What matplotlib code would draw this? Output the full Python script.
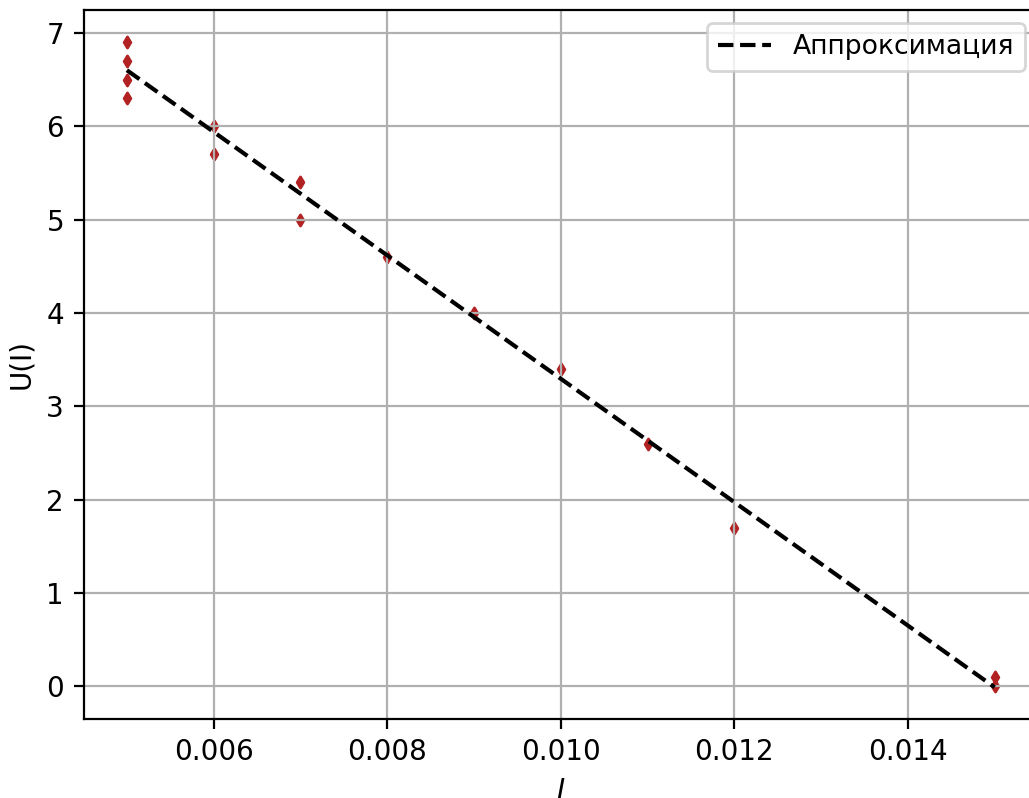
import numpy as np
import matplotlib
matplotlib.use("Agg")
import matplotlib.pyplot as plt

# Measured data: current I (A) and voltage U (V)
current = [0.005, 0.005, 0.005, 0.005, 0.006, 0.006, 0.007, 0.007,
           0.008, 0.009, 0.010, 0.011, 0.012, 0.015, 0.015]
voltage = [6.9, 6.7, 6.5, 6.3, 6.0, 5.7, 5.4, 5.0,
           4.6, 4.0, 3.4, 2.6, 1.7, 0.1, 0.0]

# Approximation line endpoints
fit_current = [0.005, 0.015]
fit_voltage = [6.60, -0.01]

legend_label = "Аппроксимация"
x_label = "$I$"
y_label = "U(I)"

W, H, DPI = 1029, 798, 200
fig = plt.figure(figsize=(W / DPI, H / DPI), dpi=DPI)
left, right, top, bottom = 83.5, 1038.0, 10.0, 718.5
ax = fig.add_axes([left / W, (H - bottom) / H, (right - left) / W, (bottom - top) / H])

ax.scatter(current, voltage, marker="d", s=8, color="#b22222")
ax.plot(fit_current, fit_voltage, "k--", lw=1.5, label=legend_label)

ax.set_xlim(0.0045, 0.0155)
ax.set_ylim(-0.345, 7.245)
ax.set_xlabel(x_label)
ax.set_ylabel(y_label)
ax.grid(True)
ax.legend(loc="upper right", fontsize=9.6)

fig.savefig("out.png", dpi=DPI)
